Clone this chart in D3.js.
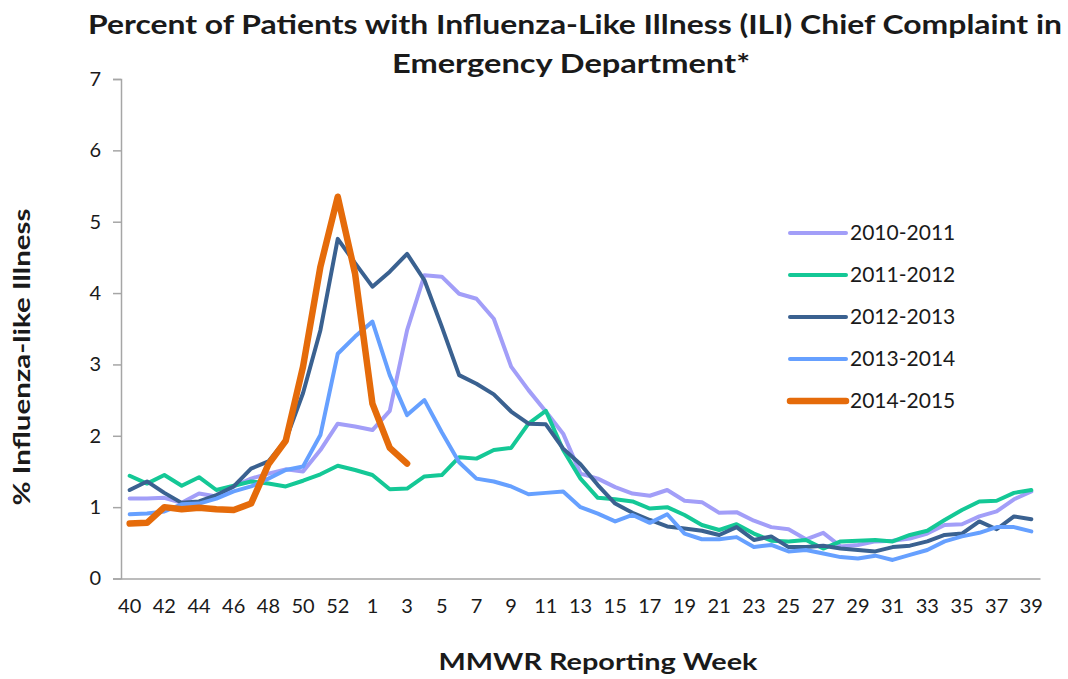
<!DOCTYPE html>
<html>
<head>
<meta charset="utf-8">
<script src="https://cdn.jsdelivr.net/npm/d3@7"></script>
<style>
  body { margin: 0; background: #fff; }
  text { font-family: Lato, "Open Sans", sans-serif; fill: #1a1a1a; }
</style>
</head>
<body>
<div id="chart"></div>
<script>
// MMWR weeks, season runs wk40 -> wk39 (wk53 slot included)
const weeks = ["40","41","42","43","44","45","46","47","48","49","50","51","52","53",
  "1","2","3","4","5","6","7","8","9","10","11","12","13","14","15","16","17","18","19","20",
  "21","22","23","24","25","26","27","28","29","30","31","32","33","34","35","36","37","38","39"];

const seasons = ["2010-2011", "2011-2012", "2012-2013", "2013-2014", "2014-2015"];
const colors = ["#a29ef8", "#14c896", "#3a6190", "#66a0ff", "#e56b0a"];
const yTicks = [0, 1, 2, 3, 4, 5, 6, 7];

const ili2010 = [1.12,1.12,1.13,1.06,1.19,1.15,1.29,1.40,1.47,1.53,1.50,1.80,2.17,2.13,2.08,2.35,3.48,4.25,4.23,3.99,
  3.92,3.64,2.97,2.64,2.34,2.03,1.47,1.40,1.28,1.19,1.16,1.24,1.09,1.07,0.92,0.93,0.81,0.72,0.69,0.55,
  0.64,0.45,0.47,0.52,0.53,0.56,0.63,0.75,0.76,0.87,0.94,1.11,1.22];
const ili2011 = [1.44,1.33,1.45,1.30,1.42,1.24,1.30,1.36,1.33,1.29,1.37,1.46,1.58,1.52,1.45,1.25,1.26,1.43,1.45,1.70,
  1.68,1.80,1.83,2.17,2.35,1.80,1.40,1.13,1.11,1.08,0.98,1.00,0.89,0.75,0.68,0.76,0.63,0.53,0.52,0.54,
  0.42,0.52,0.53,0.54,0.52,0.61,0.67,0.82,0.96,1.08,1.09,1.20,1.24];
const ili2012 = [1.24,1.36,1.20,1.06,1.08,1.17,1.29,1.54,1.64,1.94,2.60,3.48,4.76,4.42,4.09,4.30,4.55,4.18,3.53,2.85,
  2.73,2.58,2.34,2.17,2.16,1.82,1.60,1.31,1.05,0.92,0.82,0.73,0.70,0.67,0.61,0.72,0.54,0.59,0.44,0.44,
  0.46,0.42,0.40,0.38,0.44,0.46,0.52,0.61,0.63,0.80,0.69,0.87,0.83];
const ili2013 = [0.90,0.91,0.94,1.04,1.05,1.12,1.22,1.29,1.40,1.52,1.57,2.01,3.15,3.39,3.60,2.85,2.29,2.50,2.05,1.63,
  1.40,1.36,1.29,1.18,1.20,1.22,1.00,0.91,0.80,0.89,0.78,0.90,0.63,0.55,0.55,0.58,0.44,0.47,0.38,0.40,
  0.35,0.30,0.28,0.32,0.26,0.33,0.40,0.52,0.59,0.64,0.72,0.72,0.66];
const ili2014 = [0.77,0.78,1.00,0.97,0.99,0.97,0.96,1.05,1.60,1.93,2.97,4.37,5.35,4.27,2.45,1.83,1.61];

const seriesData = [ili2010, ili2011, ili2012, ili2013, ili2014];

const width = 1068, height = 679;
const plotLeft = 121, plotRight = 1040, plotTop = 79, plotBottom = 578.5;

const svg = d3.select("#chart").append("svg")
    .attr("width", width)
    .attr("height", height);

const x = d3.scaleBand()
    .domain(weeks)
    .range([plotLeft, plotRight])
    .paddingInner(0)
    .paddingOuter(0);

const y = d3.scaleLinear()
    .domain([0, 7])
    .range([plotBottom, plotTop]);

const cx = w => x(w) + x.bandwidth() / 2;

// y axis
const yAxis = svg.append("g")
    .attr("transform", `translate(${plotLeft},0)`)
    .call(d3.axisLeft(y).tickValues(yTicks).tickSize(8).tickPadding(12).tickFormat(d3.format("d")));
yAxis.select(".domain").attr("stroke", "#a6a6a6").attr("stroke-width", 1.5);
yAxis.selectAll(".tick line").attr("stroke", "#a6a6a6").attr("stroke-width", 1.5);
yAxis.selectAll(".tick text").attr("font-size", 20).attr("fill", "#1a1a1a")
    .attr("font-family", "Lato, sans-serif");

// x axis (labels every other week)
const xAxis = svg.append("g")
    .attr("transform", `translate(0,${plotBottom})`)
    .call(d3.axisBottom(x).tickValues(weeks.filter((w, i) => i % 2 === 0)).tickSize(0).tickPadding(20));
xAxis.select(".domain").attr("stroke", "#a6a6a6").attr("stroke-width", 1.5);
xAxis.selectAll(".tick text").attr("font-size", 20).attr("fill", "#1a1a1a")
    .attr("font-family", "Lato, sans-serif");

// lines
const line = d3.line()
    .defined(d => d != null)
    .x((d, i) => cx(weeks[i]))
    .y(d => y(d));

seriesData.forEach((vals, k) => {
    svg.append("path")
        .datum(vals)
        .attr("d", line)
        .attr("fill", "none")
        .attr("stroke", colors[k])
        .attr("stroke-width", k === 4 ? 6.5 : 4)
        .attr("stroke-linejoin", "round")
        .attr("stroke-linecap", "round");
});

// legend
const legend = svg.append("g").attr("transform", "translate(790,233)");
seasons.forEach((s, i) => {
    legend.append("line")
        .attr("x1", 0).attr("x2", 56)
        .attr("y1", i * 42).attr("y2", i * 42)
        .attr("stroke", colors[i])
        .attr("stroke-width", i === 4 ? 6.5 : 4)
        .attr("stroke-linecap", "round");
    legend.append("text")
        .attr("x", 60)
        .attr("y", i * 42 + 7)
        .attr("font-size", 21)
        .text(s);
});

// titles
svg.append("text")
    .attr("x", 575).attr("y", 34)
    .attr("text-anchor", "middle")
    .attr("font-size", 26).attr("font-weight", "bold")
    .attr("textLength", 974).attr("lengthAdjust", "spacingAndGlyphs")
    .text("Percent of Patients with Influenza-Like Illness (ILI) Chief Complaint in");
svg.append("text")
    .attr("x", 571).attr("y", 73)
    .attr("text-anchor", "middle")
    .attr("font-size", 26).attr("font-weight", "bold")
    .attr("textLength", 358).attr("lengthAdjust", "spacingAndGlyphs")
    .text("Emergency Department*");

svg.append("text")
    .attr("transform", "translate(30,357) rotate(-90)")
    .attr("text-anchor", "middle")
    .attr("font-size", 23).attr("font-weight", "bold")
    .attr("textLength", 297).attr("lengthAdjust", "spacingAndGlyphs")
    .text("% Influenza-like Illness");

svg.append("text")
    .attr("x", 598).attr("y", 670)
    .attr("text-anchor", "middle")
    .attr("font-size", 23).attr("font-weight", "bold")
    .attr("textLength", 319).attr("lengthAdjust", "spacingAndGlyphs")
    .text("MMWR Reporting Week");
</script>
</body>
</html>
